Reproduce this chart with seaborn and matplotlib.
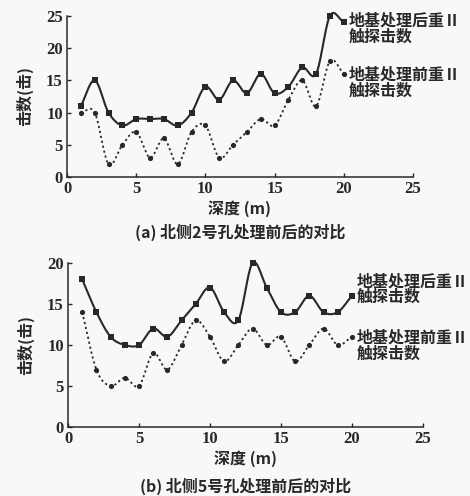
import numpy as np
import pandas as pd
import matplotlib
matplotlib.use("Agg")
import matplotlib.pyplot as plt
import seaborn as sns

sns.set_theme(style="ticks")
plt.rcParams['font.family'] = ['Noto Sans CJK SC', 'DejaVu Sans']
plt.rcParams['axes.unicode_minus'] = False

# depth (m)
depth = list(range(1, 21))

# hole 2, north side
hole2_after = [11, 15, 10, 8, 9, 9, 9, 8, 10, 14, 12, 15, 13, 16, 13, 14, 17, 16, 25, 24]
hole2_before = [10, 10, 2, 5, 7, 3, 6, 2, 7, 8, 3, 5, 7, 9, 8, 12, 15, 11, 18, 16]

# hole 5, north side
hole5_after = [18, 14, 11, 10, 10, 12, 11, 13, 15, 17, 14, 13, 20, 17, 14, 14, 16, 14, 14, 16]
hole5_before = [14, 7, 5, 6, 5, 9, 7, 10, 13, 11, 8, 10, 12, 10, 11, 8, 10, 12, 10, 11]

label_after = "地基处理后重Ⅱ\n触探击数"
label_before = "地基处理前重Ⅱ\n触探击数"
xlabel = "深度 (m)"
ylabel = "击数(击)"
caption_a = "(a) 北侧2号孔处理前后的对比"
caption_b = "(b) 北侧5号孔处理前后的对比"

INK = "#262a26"
BG = "#f8f8f6"
NUM_FONT = ['Liberation Serif', 'DejaVu Serif']


def smooth(x, y, n=20):
    """Catmull-Rom curve through the measured points."""
    x = np.asarray(x, float)
    y = np.asarray(y, float)
    px = np.concatenate([[2 * x[0] - x[1]], x, [2 * x[-1] - x[-2]]])
    py = np.concatenate([[2 * y[0] - y[1]], y, [2 * y[-1] - y[-2]]])
    xs, ys = [], []
    t = np.linspace(0, 1, n, endpoint=False)
    for i in range(1, len(px) - 2):
        p0, p1, p2, p3 = py[i - 1], py[i], py[i + 1], py[i + 2]
        yy = 0.5 * ((2 * p1) + (-p0 + p2) * t + (2 * p0 - 5 * p1 + 4 * p2 - p3) * t ** 2
                    + (-p0 + 3 * p1 - 3 * p2 + p3) * t ** 3)
        xx = px[i] + (px[i + 1] - px[i]) * t
        xs.append(xx)
        ys.append(yy)
    xs.append([x[-1]])
    ys.append([y[-1]])
    return np.concatenate(xs), np.concatenate(ys)


def panel(ax, after, before, ymax, caption, cap_y, after_txt_y, before_txt_y):
    for vals, ls, marker, ms in [(after, "-", "s", 16), (before, (0, (1.2, 1.6)), "o", 14)]:
        sx, sy = smooth(depth, vals)
        curve = pd.DataFrame({"x": sx, "y": sy})
        sns.lineplot(data=curve, x="x", y="y", ax=ax, sort=False, color=INK,
                     linewidth=1.5 if ls == "-" else 1.3, linestyle=ls, estimator=None)
        pts = pd.DataFrame({"x": depth, "y": vals})
        sns.scatterplot(data=pts, x="x", y="y", ax=ax, marker=marker, s=ms,
                        color=INK, edgecolor=INK, linewidth=0, zorder=3)
    for art in ax.lines + ax.collections:
        art.set_clip_on(False)
    ax.set_xlim(0, 25)
    ax.set_ylim(0, ymax)
    ax.set_xticks(range(0, 26, 5))
    ax.set_yticks(range(0, ymax + 1, 5))
    ax.tick_params(direction="in", length=3, width=1, colors=INK, pad=3)
    for lab in ax.get_xticklabels() + ax.get_yticklabels():
        lab.set_family(NUM_FONT)
        lab.set_fontsize(12)
        lab.set_fontweight("bold")
        lab.set_color(INK)
    sns.despine(ax=ax)
    for sp in ("left", "bottom"):
        ax.spines[sp].set_color(INK)
        ax.spines[sp].set_linewidth(1.1)
    ax.set_facecolor(BG)
    ax.set_xlabel(xlabel, fontsize=11.5, color=INK, labelpad=2, fontweight="bold")
    ax.set_ylabel(ylabel, fontsize=11.5, color=INK, labelpad=9, fontweight="bold")
    ax.text(0.5, cap_y, caption, transform=ax.transAxes, ha="center", va="center",
            fontsize=11.5, color=INK, fontweight="bold")
    ax.text(20.35, after_txt_y, label_after, ha="left", va="center", fontsize=11.5,
            color=INK, linespacing=1.0, clip_on=False, fontweight="bold")
    ax.text(20.35, before_txt_y, label_before, ha="left", va="center", fontsize=11.5,
            color=INK, linespacing=1.0, clip_on=False, fontweight="bold")


fig = plt.figure(figsize=(4.70, 4.96), dpi=100, facecolor=BG)
ax_a = fig.add_axes([0.1426, 0.643, 0.736, 0.325])
ax_b = fig.add_axes([0.1447, 0.139, 0.755, 0.331])

panel(ax_a, hole2_after, hole2_before, 25, caption_a, -0.34, 23.0, 14.6)
panel(ax_b, hole5_after, hole5_before, 20, caption_b, -0.36, 16.8, 9.9)

fig.savefig("out.png", dpi=100, facecolor=BG)
